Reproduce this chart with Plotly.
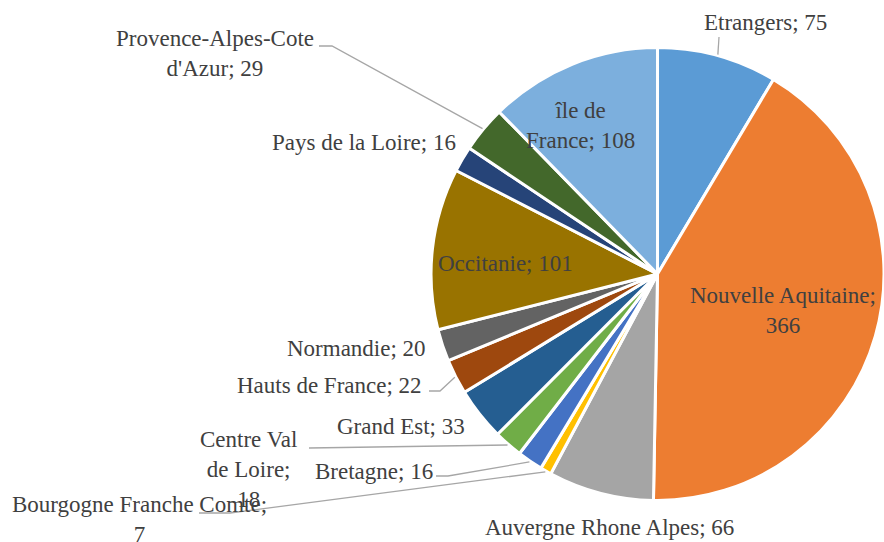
import math
import plotly.graph_objects as go

# ---- data ----
regions = ["Etrangers", "Nouvelle Aquitaine", "Auvergne Rhone Alpes",
           "Bourgogne Franche Comte", "Bretagne", "Centre Val de Loire",
           "Grand Est", "Hauts de France", "Normandie", "Occitanie",
           "Pays de la Loire", "Provence-Alpes-Cote d'Azur", "île de France"]
values = [75, 366, 66, 7, 16, 18, 33, 22, 20, 101, 16, 29, 108]
colors = ["#5B9BD5", "#ED7D31", "#A5A5A5", "#FFC000", "#4472C4", "#70AD47",
          "#255E91", "#9E480E", "#636363", "#997300", "#264478", "#43682B",
          "#7CAFDD"]
# how each data label wraps ({n} name, {v} value)
label_formats = ["{n}; {v}", "{n};<br>{v}", "{n}; {v}", "{n};<br>{v}", "{n}; {v}",
                 "Centre Val<br>de Loire;<br>{v}", "{n}; {v}", "{n}; {v}", "{n}; {v}",
                 "{n}; {v}", "{n}; {v}", "Provence-Alpes-Cote<br>d'Azur; {v}",
                 "île de<br>France; {v}"]

# ---- layout (pixels) ----
W, H = 884, 542
label_pos = [(765, 23), (783, 310), (609, 527), (139, 519), (374, 471),
             (248, 469), (401, 426), (329, 385), (356, 348), (506, 263),
             (364, 142), (215, 53), (580, 126)]
# leader line anchor points on label side (None = no leader)
leader_start = [[(719, 37)], None, None, [(199, 513), (230, 513)],
                [(436, 476), (448, 476)], [(309, 448)], None,
                [(429, 391), (440, 391)], None, None, None,
                [(319, 46), (332, 46)], None]

dom_x = [0.4876, 1.0]
dom_y = [0.0645, 0.9245]

fig = go.Figure(go.Pie(
    labels=regions, values=values, sort=False, direction="clockwise",
    rotation=0, textinfo="none", hoverinfo="label+value",
    marker=dict(colors=colors, line=dict(color="white", width=3)),
    domain=dict(x=dom_x, y=dom_y), showlegend=False,
))

cx = W * (dom_x[0] + dom_x[1]) / 2
cy = H * (1 - (dom_y[0] + dom_y[1]) / 2)
r = min(W * (dom_x[1] - dom_x[0]), H * (dom_y[1] - dom_y[0])) / 2

def px(x, y):
    return x / W, 1 - y / H

total = sum(values)
cum = 0
annotations, shapes = [], []
for name, v, fmt, (lx, ly), lead in zip(regions, values, label_formats, label_pos, leader_start):
    mid = (cum + v / 2) / total * 2 * math.pi
    cum += v
    ax, ay = px(lx, ly)
    annotations.append(dict(
        x=ax, y=ay, xref="paper", yref="paper", showarrow=False,
        text=fmt.format(n=name, v=v), align="center",
        xanchor="center", yanchor="middle",
        font=dict(family="Liberation Serif, serif", size=23, color="#404040"),
    ))
    if lead:
        ex = cx + (r + 1) * math.sin(mid)
        ey = cy - (r + 1) * math.cos(mid)
        pts = [px(x, y) for x, y in lead] + [px(ex, ey)]
        path = "M " + " L ".join(f"{a:.5f},{b:.5f}" for a, b in pts)
        shapes.append(dict(type="path", path=path, xref="paper", yref="paper",
                           line=dict(color="#A6A6A6", width=1.3)))

fig.update_layout(
    width=W, height=H, margin=dict(l=0, r=0, t=0, b=0),
    paper_bgcolor="white", plot_bgcolor="white",
    annotations=annotations, shapes=shapes,
)
fig.write_html("out.html", config={"displayModeBar": False},
               post_script="document.body.style.margin='0';document.body.style.overflow='hidden';")
